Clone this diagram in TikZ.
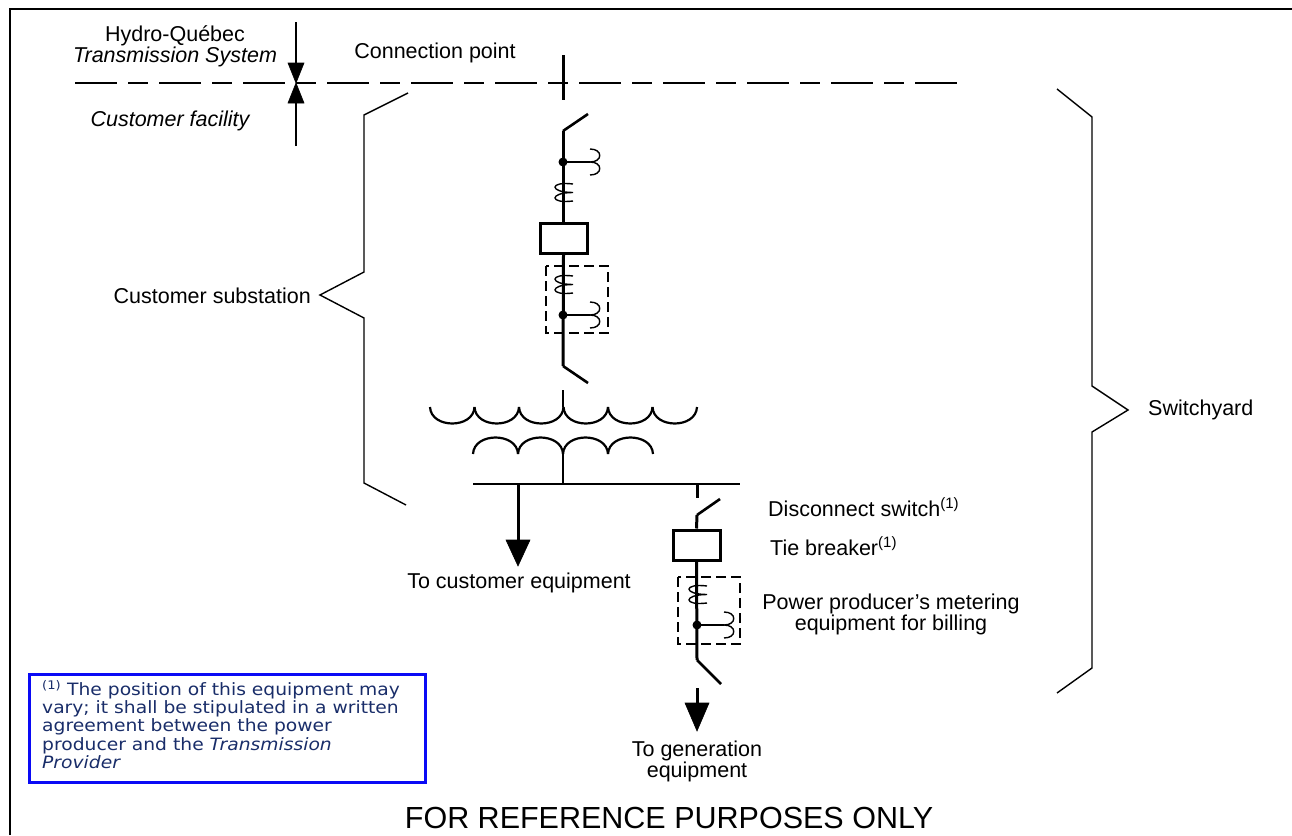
\documentclass[tikz,border=0pt]{standalone}
\usepackage{fontspec}
\setmainfont{Liberation Sans}
\newfontfamily\notefont[FakeStretch=1.1]{DejaVu Sans}
\definecolor{notecol}{RGB}{25,45,105}
\definecolor{boxblue}{RGB}{10,10,245}
\begin{document}
\begin{tikzpicture}[x=1pt,y=-1pt,
  thinl/.style={line width=1.4pt},
  heavy/.style={line width=3pt},
  brk/.style={line width=3pt, draw, fill=white},
  metbox/.style={line width=1.4pt, dash pattern=on 10pt off 5pt},
  bracel/.style={line width=1.4pt, line join=miter},
  lbl/.style={font=\fontsize{21.5}{19}\selectfont, inner sep=0pt},
  ilbl/.style={font=\fontsize{21.5}{19}\selectfont\itshape, inner sep=0pt},
  tip/.style={fill=black, draw=black, line width=0.6pt}]
\useasboundingbox (0,0) rectangle (1292,835);
% frame
\draw[line width=1.2pt] (10,835) -- (10,9) -- (1292,9);

% boundary line
\coordinate (bl1) at (75,83);
\coordinate (bl2) at (960,83);
\draw[thinl, dash pattern=on 42pt off 11pt on 20pt off 11pt] (bl1) -- (bl2);

% boundary arrows
\coordinate (at1) at (296,22);
\coordinate (at2) at (296,64);
\coordinate (ab1) at (296,146);
\coordinate (ab2) at (296,102);
\coordinate (am) at (296,83);
\draw[thinl] (at1) -- (at2);
\draw[thinl] (ab1) -- (ab2);
\fill[tip] (288,63) -- (304,63) -- (am) -- cycle;
\fill[tip] (288,103) -- (304,103) -- (am) -- cycle;

\node[lbl, align=center] (hq) at (175,46) {Hydro-Québec\\\textit{Transmission System}};
\node[ilbl] (cf) at (170,121) {Customer facility};
\node[lbl] (cp) at (435,53) {Connection point};

% ---- main line ----
\coordinate (cpa) at (563,55);
\coordinate (cpb) at (563,100);
\draw[heavy] (cpa) -- (cpb);
% switch 1
\coordinate (s1p) at (563,131);
\coordinate (s1t) at (588,114);
\draw[line width=2.6pt] (s1t) -- (s1p);
% CT 1 dot
\coordinate (ct1) at (563,162);
\coordinate (brk1t) at (563,223);
\draw[heavy] (s1p) -- (brk1t);
\fill (ct1) circle (4.5pt);
\draw[thinl] (ct1) -- (590,162);
\draw[thinl] (590,149) .. controls (603,149) and (603,162) .. (590,162)
                      .. controls (603,162) and (603,175) .. (590,175);
% coil 1
\draw[thinl] (573,184) .. controls (549,181) and (549,192.5) .. (573,192.5)
                      .. controls (549,192.5) and (549,204) .. (573,201);
% breaker 1
\node[brk, minimum width=47pt, minimum height=30pt, inner sep=0pt] (brk1) at (563.5,238) {};
% metering box 1
\draw[metbox] (546,266) rectangle (608,333);
\coordinate (s2p) at (563,366);
\draw[heavy] (brk1.south) -- (s2p);
\draw[thinl] (573,276) .. controls (549,273) and (549,284.5) .. (573,284.5)
                      .. controls (549,284.5) and (549,296) .. (573,293);
\coordinate (ct2) at (563,315);
\fill (ct2) circle (4.5pt);
\draw[thinl] (ct2) -- (590,315);
\draw[thinl] (590,302) .. controls (603,302) and (603,315) .. (590,315)
                      .. controls (603,315) and (603,328) .. (590,328);
% switch 2
\coordinate (s2t) at (588,383);
\draw[line width=2.6pt] (s2p) -- (s2t);

% ---- transformer ----
\coordinate (tp) at (563,390);
\coordinate (tpc) at (563,407);
\draw[line width=2.2pt] (tp) -- (tpc);
\foreach \i in {0,...,5} {
  \pgfmathsetmacro{\xa}{430+44.5*\i}
  \pgfmathsetmacro{\xb}{430+44.5*(\i+1)}
  \draw[line width=2.2pt] (\xa,407) .. controls (\xa+1,429) and (\xb-1,429) .. (\xb,407);
}
\foreach \i in {0,...,3} {
  \pgfmathsetmacro{\xa}{473+45*\i}
  \pgfmathsetmacro{\xb}{473+45*(\i+1)}
  \draw[line width=2.2pt] (\xa,454) .. controls (\xa+1,432) and (\xb-1,432) .. (\xb,454);
}
\coordinate (tsc) at (563,454);
\coordinate (tsb) at (563,484);
\draw[line width=2.2pt] (tsc) -- (tsb);

% bus
\coordinate (busl) at (473,484);
\coordinate (busr) at (740,484);
\draw[line width=2.4pt] (busl) -- (busr);

% left feeder
\coordinate (lf) at (518,484);
\coordinate (lfa) at (518,542);
\coordinate (lft) at (518,566);
\draw[heavy] (lf) -- (lfa);
\fill[tip] (506,540) -- (530,540) -- (lft) -- cycle;
\node[lbl] (tce) at (519,583) {To customer equipment};

% right branch
\coordinate (rf) at (697,484);
\coordinate (rfa) at (697,498);
\draw[heavy] (rf) -- (rfa);
\coordinate (s3p) at (697,515);
\coordinate (s3t) at (720,499);
\draw[line width=2.6pt] (s3p) -- (s3t);
\node[brk, minimum width=47pt, minimum height=30pt, inner sep=0pt] (brk2) at (696.5,545) {};
\draw[heavy] (s3p) -- (brk2.north);
\coordinate (s4p) at (697,660);
\draw[heavy] (brk2.south) -- (s4p);
\draw[metbox] (678,577) rectangle (740,644);
\draw[thinl] (707,586) .. controls (683,583) and (683,594.5) .. (707,594.5)
                      .. controls (683,594.5) and (683,606) .. (707,603);
\coordinate (ct3) at (697,625);
\fill (ct3) circle (4.5pt);
\draw[thinl] (ct3) -- (724,625);
\draw[thinl] (724,612) .. controls (737,612) and (737,625) .. (724,625)
                      .. controls (737,625) and (737,638) .. (724,638);
\coordinate (s4t) at (721,684);
\draw[line width=2.6pt] (s4p) -- (s4t);
\coordinate (rfb) at (697,688);
\coordinate (rfc) at (697,705);
\coordinate (rft) at (697,731);
\draw[heavy] (rfb) -- (rfc);
\fill[tip] (685,703) -- (709,703) -- (rft) -- cycle;
\node[lbl, align=center] (tge) at (697,761) {To generation\\equipment};

% right labels
\node[lbl, anchor=west] (ds) at (768,507) {Disconnect switch\textsuperscript{(1)}};
\node[lbl, anchor=west] (tb) at (770,546) {Tie breaker\textsuperscript{(1)}};
\node[lbl, align=center] (pp) at (891,614) {Power producer’s metering\\equipment for billing};

% left brace
\draw[bracel] (408,93) -- (364,115) -- (364,272) -- (320,295) -- (364,318) -- (364,483) -- (406,505);
\node[lbl, anchor=east] (cs) at (311,296) {Customer substation};
% right brace
\draw[bracel] (1057,89) -- (1092,117) -- (1092,386) -- (1128,410) -- (1092,432) -- (1092,668) -- (1057,693);
\node[lbl, anchor=west] (sy) at (1148,410) {Switchyard};

% note
\node[draw=boxblue, line width=3pt, minimum width=396pt, minimum height=108pt, inner sep=0pt] (notebox) at (227,728) {};
\node[anchor=north west, inner sep=0pt, align=left, text=notecol,
      font=\notefont\fontsize{17}{18.2}\selectfont] (notetxt) at (42,680)
  {\textsuperscript{(1)} The position of this equipment may\\
   vary; it shall be stipulated in a written\\
   agreement between the power\\
   producer and the \textit{Transmission}\\
   \textit{Provider}};

\node[lbl, font=\fontsize{30.5}{30}\selectfont] (frp) at (669,818) {FOR REFERENCE PURPOSES ONLY};
\end{tikzpicture}
\end{document}
